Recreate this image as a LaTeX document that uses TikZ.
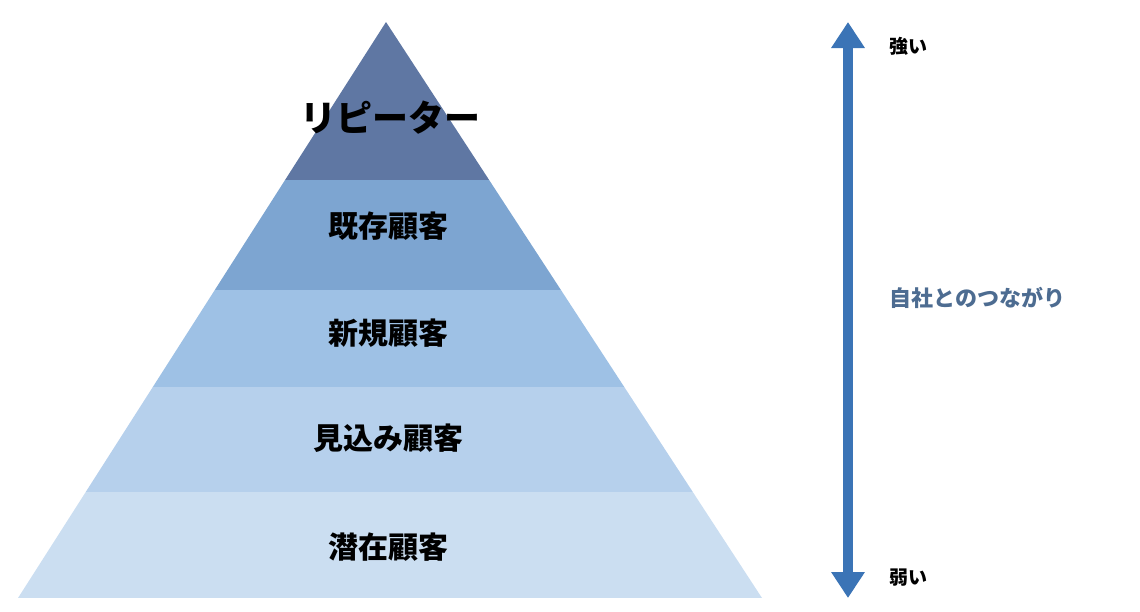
\documentclass[tikz,border=0pt]{standalone}
\usepackage{fontspec}
\newfontfamily\cjk{Noto Sans CJK JP}
\usetikzlibrary{arrows.meta}
\definecolor{tierA}{HTML}{5F77A3}
\definecolor{tierB}{HTML}{7DA5D1}
\definecolor{tierC}{HTML}{9EC1E5}
\definecolor{tierD}{HTML}{B6D0EC}
\definecolor{tierE}{HTML}{CBDEF1}
\definecolor{arrowblue}{HTML}{3B74B6}
\definecolor{labelblue}{HTML}{4D6C91}
\tikzset{
  tier/.style={font=\cjk\bfseries\fontsize{30}{30}\selectfont, text=black},
  side/.style={font=\cjk\bfseries\fontsize{19}{19}\selectfont, text=black, anchor=west}
}
\begin{document}
\begin{tikzpicture}[x=1pt, y=-1pt]
  \useasboundingbox (0,0) rectangle (1140,611);
  \begin{scope}
    \clip (386,22) -- (762,598) -- (18,598) -- cycle;
    \fill[tierA] (0,0) rectangle (800,180);
    \fill[tierB] (0,180) rectangle (800,290);
    \fill[tierC] (0,290) rectangle (800,387);
    \fill[tierD] (0,387) rectangle (800,492);
    \fill[tierE] (0,492) rectangle (800,598);
  \end{scope}
  \node[tier, font=\cjk\bfseries\fontsize{36}{36}\selectfont] (rep) at (390,118) {リピーター};
  \node[tier] (kizon) at (388,226) {既存顧客};
  \node[tier] (shinki) at (388,333) {新規顧客};
  \node[tier] (mikomi) at (388,438) {見込み顧客};
  \node[tier] (senzai) at (388,547) {潜在顧客};
  % arrow
  \coordinate (top) at (848,22);
  \coordinate (bot) at (848,598);
  \draw[arrowblue, line width=10pt, {Triangle[width=32pt,length=26pt]}-{Triangle[width=32pt,length=26pt]}] (top) -- (bot);
  \node[side] (strong) at (886,46) {強い};
  \node[side] (weak) at (886,578) {弱い};
  \node[side, text=labelblue, font=\cjk\bfseries\fontsize{22}{22}\selectfont] (tie) at (886,298) {自社とのつながり};
\end{tikzpicture}
\end{document}
